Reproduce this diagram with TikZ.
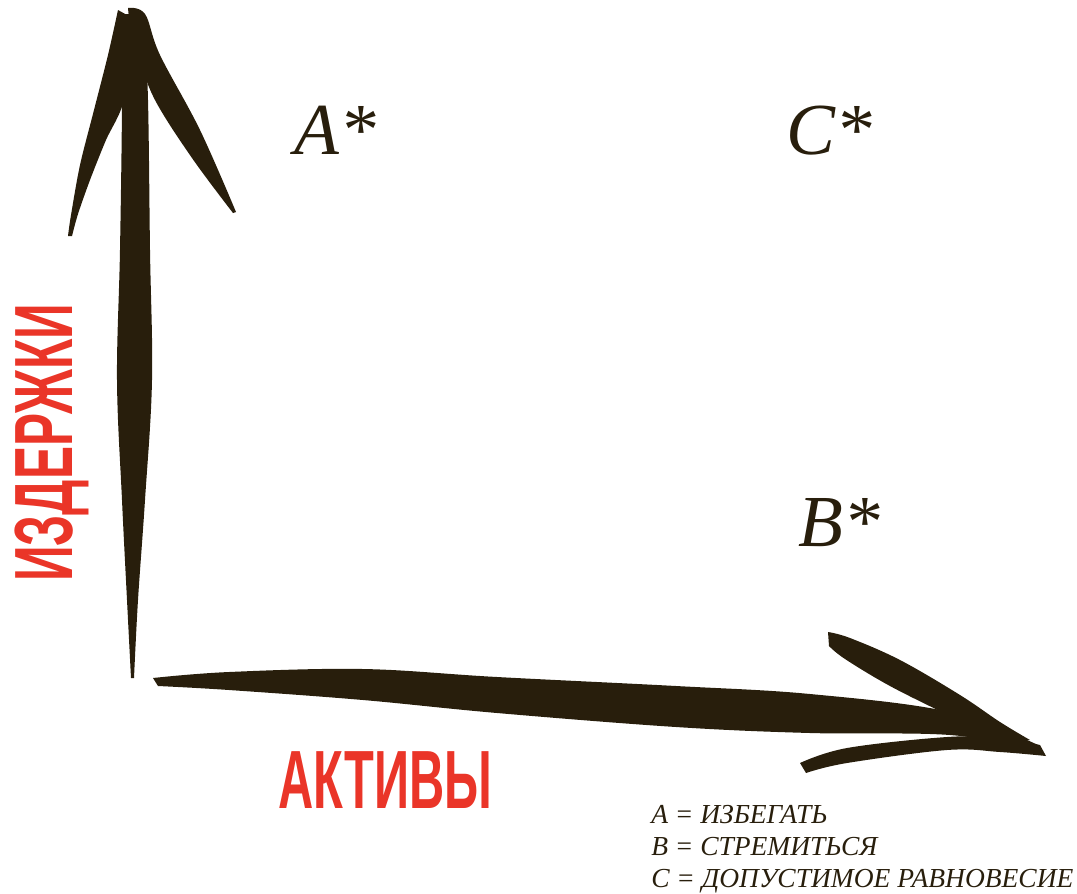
\documentclass[tikz,border=0pt]{standalone}
\usepackage{fontspec}
\setmainfont{Liberation Serif}
\newfontfamily\redfont{Liberation Sans}
\definecolor{ink}{RGB}{40,30,12}
\definecolor{redlab}{RGB}{234,53,40}
\tikzset{
  brush/.style={fill=ink},
  axislabel/.style={text=redlab,font=\redfont\bfseries\fontsize{62}{62}\selectfont,inner sep=0pt,transform shape},
  zone/.style={text=ink,font=\itshape\fontsize{55}{55}\selectfont,inner sep=0pt},
  legend/.style={text=ink,font=\itshape\fontsize{20.6}{20.6}\selectfont,inner sep=0pt,anchor=base west}
}
\begin{document}
\begin{tikzpicture}[x=0.75pt,y=-0.75pt]
\path[use as bounding box] (0,0) rectangle (1077,893);
% vertical axis shaft
\fill[brush] plot[smooth,tension=0.6] coordinates {(121,14) (122,100) (120,250) (117,380) (122,500) (127,600) (131,678)}
  -- plot[smooth,tension=0.6] coordinates {(134,678) (138,600) (145,500) (152,380) (150,250) (148,100) (144,14)} -- cycle;
% vertical axis left barb
\fill[brush] plot[smooth,tension=0.5] coordinates {(118,10) (108,55) (94,110) (80,165) (71,215) (68,236)}
  -- plot[smooth,tension=0.5] coordinates {(72,236) (78,214) (90,180) (106,140) (124,100) (136,20)} -- cycle;
% vertical axis right barb
\fill[brush] plot[smooth,tension=0.6] coordinates {(128,8) (145,14) (160,55) (200,130) (236,212)}
  -- plot[smooth,tension=0.6] coordinates {(233,213) (192,158) (155,100) (138,55) (130,30)} -- cycle;
% horizontal axis shaft
\fill[brush] plot[smooth,tension=0.6] coordinates {(153,678) (229,672) (363,669) (497,677) (676,686) (810,694) (950,712) (1040,746)}
  -- plot[smooth,tension=0.6] coordinates {(1040,750) (950,735) (810,733) (676,727) (497,713) (363,700) (229,690) (158,686)} -- cycle;
% horizontal axis upper barb
\fill[brush] plot[smooth,tension=0.6] coordinates {(828,632) (850,638) (900,660) (960,695) (1000,722) (1030,740)}
  -- plot[smooth,tension=0.6] coordinates {(1000,740) (950,716) (890,686) (845,659) (829,646)} -- cycle;
% horizontal axis lower barb
\fill[brush] plot[smooth,tension=0.6] coordinates {(800,763) (847,748) (947,737) (1000,738) (1040,745)}
  -- plot[smooth,tension=0.6] coordinates {(1046,756) (1000,752) (947,750) (847,763) (806,773)} -- cycle;
% axis labels
\node[axislabel,rotate=90,xscale=0.6,anchor=base west] (costs) at (72,582) {ИЗДЕРЖКИ};
\node[axislabel,xscale=0.59,anchor=base west] (assets) at (278,808) {АКТИВЫ};
% zone labels
\node[zone,anchor=base west] (A) at (294,154) {A*};
\node[zone,anchor=base west] (C) at (786,154) {C*};
\node[zone,anchor=base west] (B) at (798,546) {B*};
% legend
\node[legend] (l1) at (651,823) {A = ИЗБЕГАТЬ};
\node[legend] (l2) at (651,855) {B = СТРЕМИТЬСЯ};
\node[legend] (l3) at (651,887) {C = ДОПУСТИМОЕ РАВНОВЕСИЕ};
\end{tikzpicture}
\end{document}
